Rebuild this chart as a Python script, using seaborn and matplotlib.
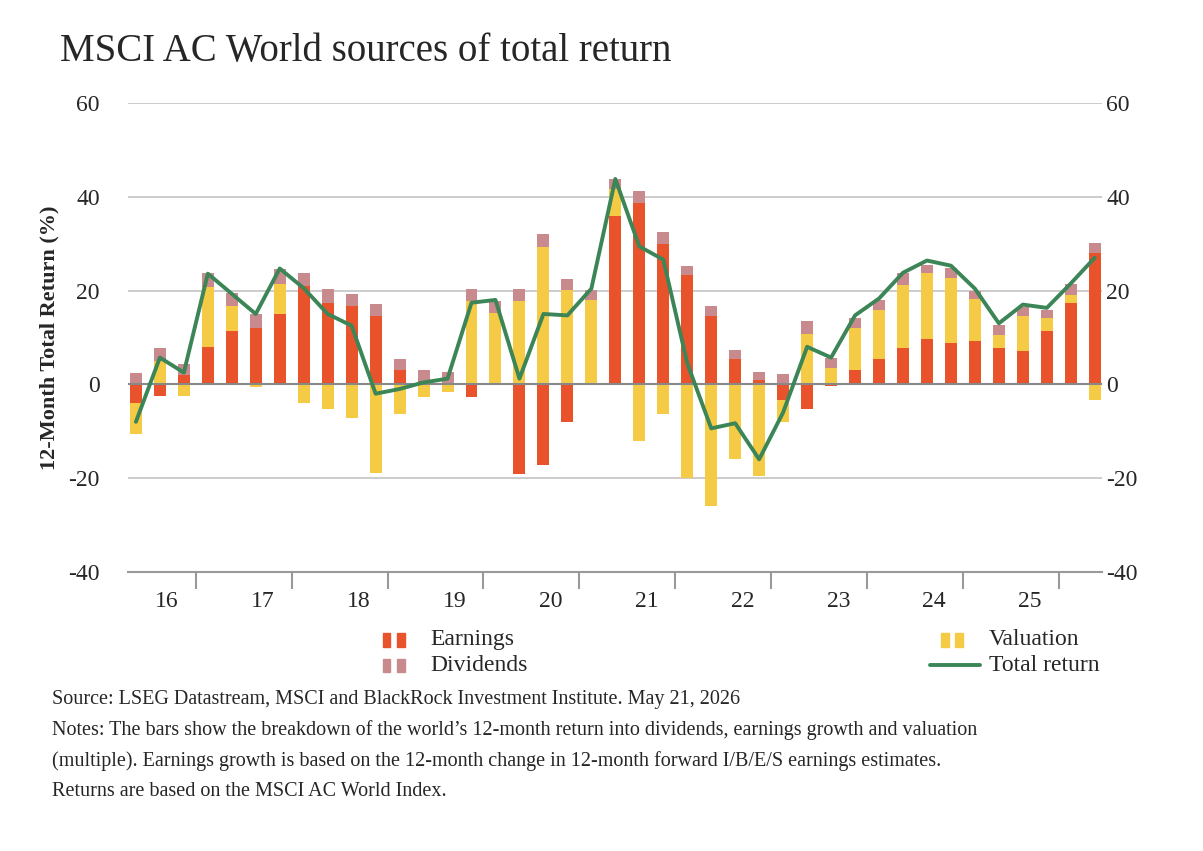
import matplotlib
matplotlib.use("Agg")
import matplotlib.pyplot as plt
import seaborn as sns
import numpy as np
import pandas as pd
from matplotlib.patches import Rectangle

earnings = [-4, -2.5, 2, 8, 11.3, 12, 15, 21, 17.4, 16.7, 14.6, 3, 0.7, 0.3, -2.8, 0, -19.1, -17.2, -8, 0,
            36, 38.7, 30, 23.3, 14.6, 5.3, 1, -3.3, -5.3, -0.3, 3, 5.3, 7.8, 9.7, 8.9, 9.2, 7.8, 7, 11.3, 17.4, 28]
valuation = [-6.6, 5, -2.5, 12.8, 5.3, -0.5, 6.4, -4, -5.3, -7.2, -19, -6.4, -2.8, -1.6, 17.7, 15.2, 17.8, 29.2, 20.2, 17.9,
             5.7, -12, -6.4, -20, -26, -16, -19.6, -4.7, 10.7, 3.5, 9, 10.6, 13.3, 14, 13.7, 8.9, 2.8, 7.6, 2.8, 1.6, -3.3]
dividends = [2.5, 2.7, 2.3, 3, 2.8, 3, 3.2, 2.8, 3, 2.6, 2.5, 2.4, 2.3, 2.3, 2.6, 2.5, 2.6, 2.8, 2.3, 2.3,
             2.1, 2.5, 2.5, 2, 2, 2, 1.6, 2.2, 2.7, 2.1, 2.1, 2.1, 2.7, 1.8, 2.3, 1.9, 2.1, 1.8, 1.8, 2.3, 2.1]
total_return = [-8, 5.7, 2.5, 23.6, 19.3, 15, 24.7, 20.5, 15, 12.5, -2, -1, 0.4, 1.2, 17.4, 18, 1.2, 15, 14.7, 20.4,
                43.8, 29.4, 26.6, 4.5, -9.4, -8.3, -16, -6, 8, 5.7, 14.7, 18.3, 23.8, 26.4, 25.3, 20.4, 13, 17, 16.3, 21.5, 27]
year_labels = ["16", "17", "18", "19", "20", "21", "22", "23", "24", "25"]

C_E, C_V, C_D, C_T = "#E8532B", "#F5CB45", "#C98A8E", "#3B8557"

sns.set_theme(style="white")
plt.rcParams['font.family'] = ['Liberation Serif', 'DejaVu Serif']
plt.rcParams['axes.unicode_minus'] = False

fig = plt.figure(figsize=(12.03, 8.51), dpi=100)
ax = fig.add_axes([0.106, 0.328, 0.81, 0.551])

x = np.arange(len(earnings))
pos_b = np.zeros(len(x)); neg_b = np.zeros(len(x))
for vals, col in [(earnings, C_E), (valuation, C_V), (dividends, C_D)]:
    v = np.array(vals, float)
    bottom = np.where(v >= 0, pos_b, neg_b)
    ax.bar(x, v, bottom=bottom, width=0.5, color=col, linewidth=0)
    pos_b = pos_b + np.where(v >= 0, v, 0)
    neg_b = neg_b + np.where(v < 0, v, 0)

df = pd.DataFrame({"x": x, "t": total_return})
sns.lineplot(data=df, x="x", y="t", ax=ax, color=C_T, linewidth=2.8)

ax.set_ylim(-40, 60)
ax.set_xlim(-0.35, 40.3)
ax.set_yticks([-40, -20, 0, 20, 40, 60])
ax.yaxis.grid(True, color="#c8c8c8", linewidth=1.3)
ax.set_axisbelow(True)
ax.axhline(0, color="#888888", linewidth=1.5, zorder=1.5)
for s in ["top", "right", "left"]:
    ax.spines[s].set_visible(False)
ax.spines["bottom"].set_color("#999999"); ax.spines["bottom"].set_linewidth(1.5)
ax.set_xticks([2.5 + 4 * k for k in range(10)])
ax.set_xticklabels([])
ax.set_xticks([1.3 + 4 * k for k in range(10)], minor=True)
ax.set_xticklabels(year_labels, minor=True)
ax.tick_params(axis="x", which="major", length=12, width=1.5, color="#999999", direction="out", bottom=True)
ax.tick_params(axis="x", which="minor", length=0, labelsize=17, pad=14)
ax.tick_params(axis="y", labelsize=17, length=0, pad=20)
ax.set_xlabel(""); ax.set_ylabel("12-Month Total Return (%)", fontsize=16, fontweight="bold", labelpad=6)

ax2 = ax.twinx()
ax2.set_ylim(-40, 60)
ax2.set_yticks([-40, -20, 0, 20, 40, 60])
ax2.tick_params(axis="y", labelsize=17, length=0, pad=3)
for s in ax2.spines.values():
    s.set_visible(False)
ax2.grid(False)

fig.text(0.05, 0.94, "MSCI AC World sources of total return", fontsize=28, va="center")

def leg(xp, yp, col, text):
    for dx in (0, 0.012):
        fig.patches.append(Rectangle((xp + dx, yp - 0.008), 0.0065, 0.016, transform=fig.transFigure,
                                     color=col, figure=fig))
    fig.text(xp + 0.04, yp, text, fontsize=17, va="center")

leg(0.318, 0.248, C_E, "Earnings")
leg(0.318, 0.218, C_D, "Dividends")
leg(0.782, 0.248, C_V, "Valuation")
fig.lines.append(plt.Line2D([0.773, 0.815], [0.218, 0.218], transform=fig.transFigure, color=C_T, linewidth=2.8))
fig.text(0.822, 0.218, "Total return", fontsize=17, va="center")

notes = ["Source: LSEG Datastream, MSCI and BlackRock Investment Institute. May 21, 2026",
         "Notes: The bars show the breakdown of the world\u2019s 12-month return into dividends, earnings growth and valuation",
         "(multiple). Earnings growth is based on the 12-month change in 12-month forward I/B/E/S earnings estimates.",
         "Returns are based on the MSCI AC World Index."]
for i, t in enumerate(notes):
    fig.text(0.043, 0.178 - i * 0.036, t, fontsize=14.5, va="center")

fig.savefig("out.png", dpi=100)
